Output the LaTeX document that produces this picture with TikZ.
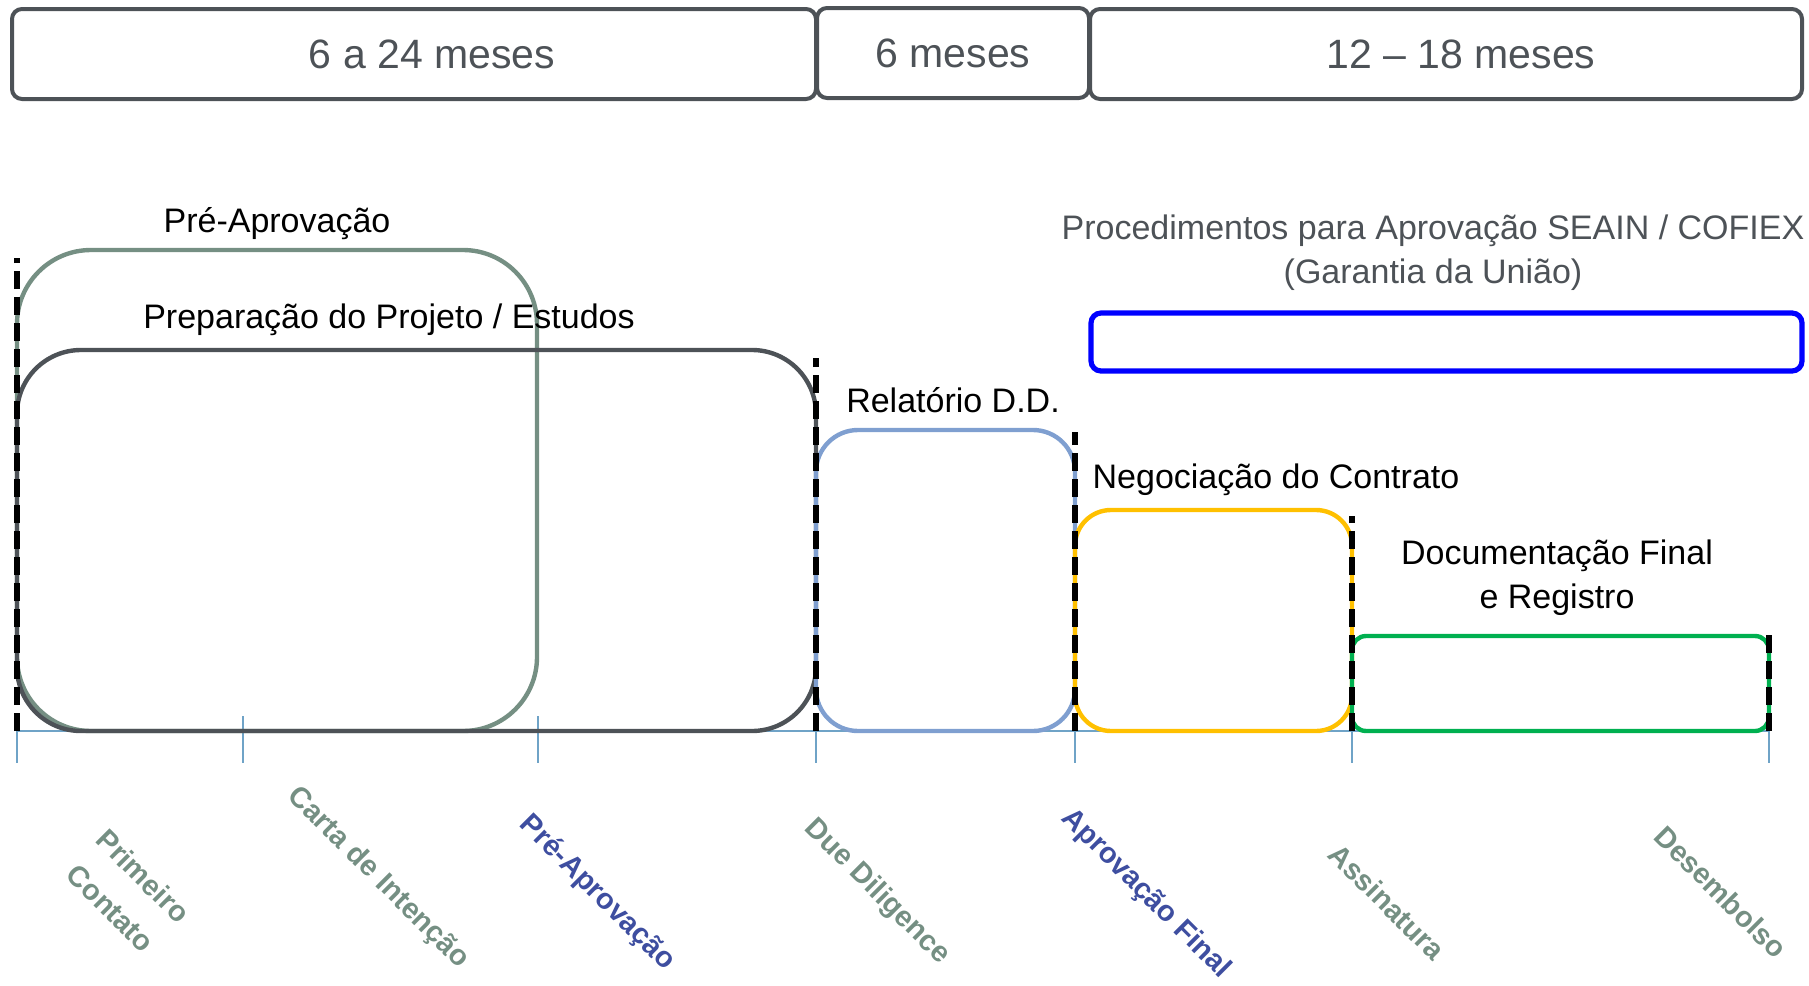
\documentclass[tikz,border=0pt]{standalone}
\usepackage{xcolor}
\usepackage{fontspec}
\setmainfont{Liberation Sans}
\usepackage{tikz}
\usetikzlibrary{positioning}

\definecolor{slate}{HTML}{4D5257}
\definecolor{sage}{HTML}{758F83}
\definecolor{mileblue}{HTML}{3E4EA0}
\definecolor{ddblue}{HTML}{7F9FD0}
\definecolor{amber}{HTML}{FFC000}
\definecolor{leaf}{HTML}{00B050}
\definecolor{axisblue}{HTML}{6FA3C7}

\begin{document}
\begin{tikzpicture}[x=0.5pt, y=-0.5pt,
        every node/.style = {inner sep=0pt, outer sep=0pt},
        period/.style = {shape=rectangle, draw=slate, line width=2pt,
        rounded corners=5pt, minimum height=45pt, text=slate,
        font=\fontsize{20.5}{24}\selectfont},
        phase/.style = {line width=2.2pt},
        title/.style = {align=center, font=\fontsize{17}{22}\selectfont},
        milestone/.style = {rotate=-45, align=center, text=sage,
        font=\bfseries\fontsize{14.5}{23}\selectfont},
        axis/.style = {draw=axisblue, line width=1pt},
        gate/.style = {line width=3.4pt, dash pattern=on 9pt off 4pt}]
    \useasboundingbox (0,0) rectangle (1809,985);

    \node[period, minimum width=402pt] (p1) at (414,54) {\hspace*{18pt}6 a 24 meses};
    \node[period, minimum width=136pt] (p2) at (953,53) {6 meses};
    \node[period, minimum width=356pt] (p3) at (1446,54) {\hspace*{15pt}12 -- 18 meses};

    \draw[axis] (17,731) -- (1769,731);
    \foreach \x/\n in {17/a, 243/b, 538/c, 816/d, 1075/e, 1352/f, 1769/g}
    {
        \coordinate (\n) at (\x,731);
        \draw[axis] (\x,716) -- (\x,763);
    }

    \draw[phase, draw=sage, rounded corners=37pt] (17,250) rectangle (537,731);
    \draw[phase, draw=slate, rounded corners=32pt] (17,350) rectangle (816,731);
    \draw[phase, draw=ddblue, rounded corners=21pt] (816,430) rectangle (1075,731);
    \draw[phase, draw=amber, rounded corners=18pt] (1075,510) rectangle (1352,731);
    \draw[phase, draw=leaf, rounded corners=7pt] (1352,636) rectangle (1769,731);
    \draw[draw=blue, line width=2.6pt, rounded corners=5pt] (1091,313) rectangle (1802,371);

    \foreach \n/\h in {a/258, d/358, e/432, f/516, g/632}
        \draw[gate] (\n) -- ++(0,{\h-731});

    \node[title] (lpre) at (277,224) {Pré-Aprovação};
    \node[title] (lprep) at (389,320) {Preparação do Projeto / Estudos};
    \node[title] (ldd) at (953,400) {Relatório D.D.};
    \node[title] (lneg) at (1276,480) {Negociação do Contrato};
    \node[title] (ldoc) at (1557,578) {Documentação Final\\e Registro};
    \node[title, text=slate] (lproc) at (1433,253)
        {Procedimentos para Aprovação SEAIN / COFIEX\\(Garantia da União)};

    \node[milestone] (m1) at (127,892) {Primeiro\\Contato};
    \node[milestone] (m2) at (378,878) {Carta de Intenção};
    \node[milestone, text=mileblue] (m3) at (597,893) {Pré-Aprovação};
    \node[milestone] (m4) at (877,892) {Due Diligence};
    \node[milestone, text=mileblue] (m5) at (1146,894) {Aprovação Final};
    \node[milestone] (m6) at (1387,902) {Assinatura};
    \node[milestone] (m7) at (1721,892) {Desembolso};
\end{tikzpicture}
\end{document}
